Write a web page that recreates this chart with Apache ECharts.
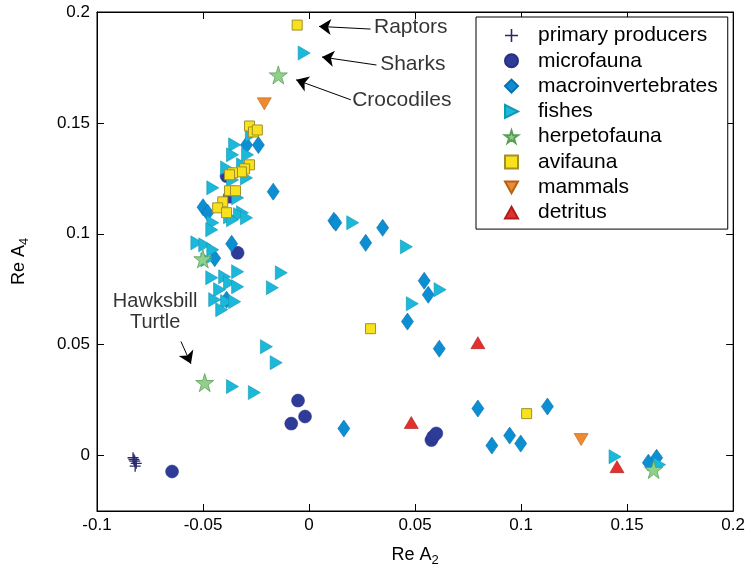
<!DOCTYPE html>
<html>
<head>
<meta charset="utf-8">
<script src="https://cdn.jsdelivr.net/npm/echarts@6/dist/echarts.min.js"></script>
<style>html,body{margin:0;padding:0;background:#fff}#c{width:748px;height:575px}</style>
</head>
<body>
<div id="c"></div>
<script>
// ---- data (Re A2, Re A4) ----
var primaryProducers = [[-0.0830,-0.0010],[-0.0822,-0.0025],[-0.0815,-0.0035],[-0.0820,-0.0048],[-0.0826,-0.0018]];
var microfauna = [[-0.0646,-0.0072],[-0.0052,0.0248],[-0.0019,0.0176],[-0.0084,0.0144],[-0.0337,0.0914],
  [-0.0389,0.1260],[-0.0375,0.1167],[0.0577,0.0070],[0.0585,0.0085],[0.0600,0.0100]];
var macroinvertebrates = [[-0.0500,0.1120],[-0.0478,0.1095],[-0.0295,0.1400],[-0.0239,0.1400],[-0.0169,0.1190],
  [-0.0365,0.0955],[-0.0389,0.0703],[-0.0445,0.0890],[0.0117,0.1059],[0.0126,0.1050],[0.0347,0.1027],
  [0.0267,0.0959],[0.0543,0.0788],[0.0562,0.0725],[0.0464,0.0604],[0.0614,0.0482],[0.0164,0.0122],
  [0.0796,0.0212],[0.1124,0.0221],[0.0862,0.0045],[0.0946,0.0090],[0.0998,0.0054],[0.1600,-0.0032],[0.1639,-0.0010]];
var fishes = [[-0.0023,0.1815],[-0.0351,0.1401],[-0.0361,0.1356],[-0.0290,0.1356],[-0.0272,0.1446],[-0.0389,0.1297],
  [-0.0314,0.1311],[-0.0295,0.1252],[-0.0454,0.1207],[-0.0337,0.1162],[-0.0361,0.1243],[-0.0314,0.1095],
  [-0.0375,0.1077],[-0.0328,0.1086],[-0.0454,0.1050],[-0.0459,0.1018],[-0.0295,0.1072],[-0.0361,0.1063],
  [-0.0529,0.0959],[-0.0492,0.0950],[-0.0454,0.0928],[-0.0482,0.0883],[-0.0337,0.0829],[-0.0459,0.0802],
  [-0.0398,0.0806],[-0.0375,0.0779],[-0.0337,0.0761],[-0.0422,0.0748],[-0.0445,0.0703],[-0.0389,0.0694],
  [-0.0351,0.0694],[-0.0412,0.0658],[-0.0131,0.0824],[-0.0173,0.0757],[-0.0201,0.0491],[-0.0155,0.0419],
  [-0.0361,0.0311],[-0.0258,0.0284],[0.0206,0.1050],[0.0459,0.0941],[0.0618,0.0748],[0.0487,0.0685],
  [0.1443,-0.0005],[0.1653,-0.0041]];
var herpetofauna = [[-0.0145,0.1716],[-0.0501,0.0887],[-0.0492,0.0329],[0.1625,-0.0063]];
var avifauna = [[-0.0056,0.1941],[-0.0281,0.1486],[-0.0262,0.1459],[-0.0244,0.1468],[-0.0281,0.1311],
  [-0.0304,0.1293],[-0.0319,0.1279],[-0.0361,0.1275],[-0.0375,0.1266],[-0.0375,0.1194],[-0.0347,0.1194],
  [-0.0407,0.1144],[-0.0431,0.1117],[-0.0389,0.1095],[0.0290,0.0572],[0.1026,0.0189]];
var mammals = [[-0.0211,0.1586],[0.1283,0.0072]];
var detritus = [[0.0796,0.0509],[0.0482,0.0149],[0.1452,-0.0050]];

var groupNames = ['primary producers','microfauna','macroinvertebrates','fishes','herpetofauna','avifauna','mammals','detritus'];
var xTicks = [-0.1,-0.05,0,0.05,0.1,0.15,0.2];
var yTicks = [0,0.05,0.1,0.15,0.2];

// annotations: label anchor [x,y]; arrow tail -> head
var annotLabels = [
  {name:'Raptors', value:[0.0304,0.1932]},
  {name:'Sharks', value:[0.0333,0.1766]},
  {name:'Crocodiles', value:[0.0201,0.1604]}
];
var turtleLabel = {name:'Hawksbill\nTurtle', value:[-0.0726,0.0649]};
var annotArrows = [
  [[0.0290,0.1923],[0.0047,0.1935]],
  [[0.0318,0.1761],[0.0061,0.1797]],
  [[0.0197,0.1604],[-0.0061,0.1694]],
  [[-0.0604,0.0514],[-0.0557,0.0414]]
];

// ---- styles ----
var FONT = 'Liberation Sans, Arial, Helvetica, sans-serif';
var plusPath = 'path://M4.4,0 h1.2 v4.4 h4.4 v1.2 h-4.4 v4.4 h-1.2 v-4.4 h-4.4 v-1.2 h4.4z';
var rightTri = 'path://M0,0 L10,5 L0,10 Z';
var downTri = 'path://M0,0 L10,0 L5,9 Z';
var upTri = 'path://M5,0 L10,9 L0,9 Z';
var star = 'path://M50,0 L61,35 L98,35 L68,57 L79,91 L50,70 L21,91 L32,57 L2,35 L39,35 Z';

var styles = [
  {symbol: plusPath, size: 11, color:'#29286e', border:'#29286e', bw:0},
  {symbol: 'circle', size: 13, color:'#2f3b98', border:'#27307f', bw:0.5},
  {symbol: 'diamond', size: [12,17], color:'#0b8fd2', border:'#0a6fae', bw:0.6},
  {symbol: rightTri, size: [12,14], color:'#1cb8da', border:'#0f97b3', bw:0.6},
  {symbol: star, size: 18, color:'#90d08a', border:'#5a9f57', bw:0.8},
  {symbol: 'rect', size: 10, color:'#f9e21c', border:'#a0902c', bw:1},
  {symbol: downTri, size: [14,12], color:'#f08a2e', border:'#b4601a', bw:0.6},
  {symbol: upTri, size: [14,12], color:'#e3302f', border:'#a8201d', bw:0.6}
];
var groupData = [primaryProducers, microfauna, macroinvertebrates, fishes, herpetofauna, avifauna, mammals, detritus];

var series = groupNames.map(function (n, i) {
  var s = styles[i];
  return {
    name: n, type: 'scatter', data: groupData[i],
    symbol: s.symbol, symbolSize: s.size,
    itemStyle: {color: s.color, borderColor: s.border, borderWidth: s.bw, opacity: 1},
    emphasis: {disabled: true}, z: 2 + i
  };
});

series.push({
  name: '_annot', type: 'scatter', silent: true, z: 20,
  data: annotLabels, symbolSize: 1, itemStyle: {color: 'rgba(0,0,0,0)'},
  label: {show: true, position: 'right', distance: 0, formatter: '{b}', fontSize: 21, fontFamily: FONT, color: '#000'},
  markLine: {
    silent: true, animation: false, symbol: ['none', 'arrow'], symbolSize: 12,
    itemStyle: {color: '#000'},
    lineStyle: {color: '#000', width: 1, type: 'solid'},
    label: {show: false},
    data: annotArrows.map(function (a) { return [{coord: a[0]}, {coord: a[1]}]; })
  }
});
series.push({
  name: '_annot2', type: 'scatter', silent: true, z: 20,
  data: [turtleLabel], symbolSize: 1, itemStyle: {color: 'rgba(0,0,0,0)'},
  label: {show: true, position: 'inside', formatter: '{b}', fontSize: 20, lineHeight: 21, align: 'center', fontFamily: FONT, color: '#000'}
});

function fmt(v) { return String(+v.toFixed(3)); }

var axisCommon = {
  axisLine: {show: true, onZero: false, lineStyle: {color: '#000', width: 1}},
  splitLine: {show: false}
};

var option = {
  animation: false,
  backgroundColor: '#fff',
  textStyle: {fontFamily: FONT},
  grid: {left: 97, right: 11, top: 12, bottom: 64, show: true, borderColor: '#000', borderWidth: 1, backgroundColor: 'transparent'},
  legend: {
    data: groupNames, orient: 'vertical', left: 476, top: 17,
    backgroundColor: '#fff', borderColor: '#000', borderWidth: 1,
    padding: [8, 10, 6, 28], itemWidth: 13, itemHeight: 13, itemGap: 4.3,
    textStyle: {fontSize: 21, fontFamily: FONT, color: '#000', lineHeight: 20, padding: [0, 0, 0, 15]},
    selectedMode: false
  },
  xAxis: [
    Object.assign({}, axisCommon, {
      type: 'value', min: -0.1, max: 0.2, interval: 0.05, position: 'bottom',
      axisLabel: {fontSize: 17, color: '#000', margin: 6, fontFamily: FONT, formatter: fmt, customValues: xTicks},
      axisTick: {show: true, inside: true, length: 7, lineStyle: {color: '#000'}, customValues: xTicks},
      name: 'Re A{s|2}', nameLocation: 'middle', nameGap: 33,
      nameTextStyle: {fontSize: 18, color: '#000', fontFamily: FONT, rich: {s: {fontSize: 13, fontFamily: FONT, color: '#000', verticalAlign: 'bottom', padding: [10, 0, 0, 0]}}}
    }),
    Object.assign({}, axisCommon, {
      type: 'value', min: -0.1, max: 0.2, interval: 0.05, position: 'top',
      axisLabel: {show: false},
      axisTick: {show: true, inside: true, length: 7, lineStyle: {color: '#000'}, customValues: xTicks}
    })
  ],
  yAxis: [
    Object.assign({}, axisCommon, {
      type: 'value', min: -0.025, max: 0.2, position: 'left',
      axisLabel: {fontSize: 17, color: '#000', margin: 7, fontFamily: FONT, formatter: fmt, customValues: yTicks},
      axisTick: {show: true, inside: true, length: 7, lineStyle: {color: '#000'}, customValues: yTicks},
      name: 'Re A{s|4}', nameLocation: 'middle', nameGap: 66,
      nameTextStyle: {fontSize: 18, color: '#000', fontFamily: FONT, rich: {s: {fontSize: 13, fontFamily: FONT, color: '#000', verticalAlign: 'bottom', padding: [10, 0, 0, 0]}}}
    }),
    Object.assign({}, axisCommon, {
      type: 'value', min: -0.025, max: 0.2, position: 'right',
      axisLabel: {show: false},
      axisTick: {show: true, inside: true, length: 7, lineStyle: {color: '#000'}, customValues: yTicks}
    })
  ],
  series: series
};

var chart = echarts.init(document.getElementById('c'), null, {renderer: 'canvas'});
chart.setOption(option);
</script>
</body>
</html>
